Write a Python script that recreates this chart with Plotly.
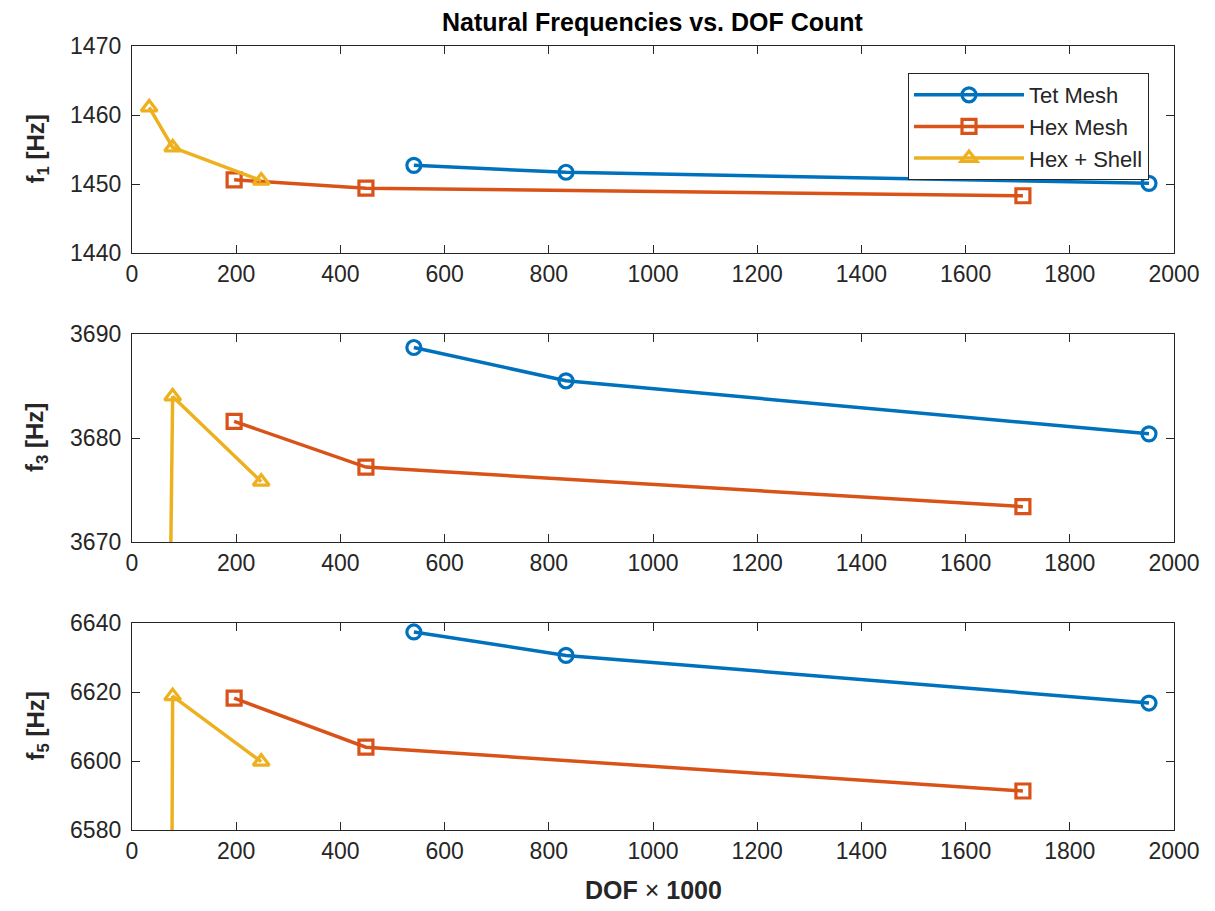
import plotly.graph_objects as go

# ---- data ----
tet_dof = [541, 833, 1952]
hex_dof = [196, 449, 1710]
hexshell_dof = [33, 78, 248]

tet_f1 = [1452.7, 1451.7, 1450.1]
hex_f1 = [1450.6, 1449.4, 1448.3]
hexshell_f1 = [1461.1, 1455.3, 1450.5]

tet_f3 = [3688.7, 3685.5, 3680.4]
hex_f3 = [3681.6, 3677.2, 3673.4]
hexshell_f3 = [3500.0, 3684.0, 3675.8]

tet_f5 = [6637.4, 6630.6, 6616.8]
hex_f5 = [6618.2, 6604.0, 6591.3]
hexshell_f5 = [5000.0, 6618.8, 6599.8]

series_names = ["Tet Mesh", "Hex Mesh", "Hex + Shell"]
panel_labels = ["f<sub>1</sub> [Hz]", "f<sub>3</sub> [Hz]", "f<sub>5</sub> [Hz]"]
y_ranges = [[1440, 1470], [3670, 3690], [6580, 6640]]
y_dticks = [10, 10, 20]
x_ticks = list(range(0, 2001, 200))

colors = ["#0072BD", "#D95319", "#EDB120"]
symbols = ["circle-open", "square-open", "triangle-up-open"]

W, H = 1215, 911
OFF = 7  # page offset of the rendered figure
xl, xr = 131 - OFF, 1173 - OFF
panels_px = [(45 - OFF, 252 - OFF), (333 - OFF, 541 - OFF), (622 - OFF, 829 - OFF)]

fig = go.Figure()
font_fam = "Liberation Sans, Arial, sans-serif"
axcol = "#262626"

data = [
    (tet_f1, hex_f1, hexshell_f1),
    (tet_f3, hex_f3, hexshell_f3),
    (tet_f5, hex_f5, hexshell_f5),
]
xs = [tet_dof, hex_dof, hexshell_dof]

layout_axes = {}
for i, (vals, (top, bot)) in enumerate(zip(data, panels_px)):
    n = "" if i == 0 else str(i + 1)
    for j in range(3):
        fig.add_trace(go.Scatter(
            x=xs[j], y=vals[j], mode="lines+markers",
            name=series_names[j], legendgroup=series_names[j],
            showlegend=(i == 0),
            line=dict(color=colors[j], width=3.5),
            marker=dict(symbol=symbols[j], size=14, color=colors[j],
                        line=dict(width=3.2, color=colors[j])),
            xaxis="x" + n, yaxis="y" + n,
        ))
    layout_axes["xaxis" + n] = dict(
        domain=[xl / W, xr / W], range=[0, 2000], tickvals=x_ticks,
        ticks="inside", ticklen=8, tickwidth=1.3, tickcolor=axcol,
        showline=True, linecolor=axcol, linewidth=1.3, mirror="ticks",
        showgrid=False, zeroline=False, anchor="y" + n, automargin=False,
        tickfont=dict(family=font_fam, size=23, color=axcol),
    )
    layout_axes["yaxis" + n] = dict(
        domain=[1 - bot / H, 1 - top / H], range=y_ranges[i], dtick=y_dticks[i],
        ticks="inside", ticklen=8, tickwidth=1.3, tickcolor=axcol,
        showline=True, linecolor=axcol, linewidth=1.3, mirror="ticks",
        showgrid=False, zeroline=False, anchor="x" + n, automargin=False,
        ticklabelstandoff=5,
        tickfont=dict(family=font_fam, size=23, color=axcol),
    )

annotations = []
for i, (top, bot) in enumerate(panels_px):
    annotations.append(dict(
        text="<b>" + panel_labels[i] + "</b>", x=(36 - OFF) / W, y=1 - (top + bot) / 2 / H,
        xref="paper", yref="paper", textangle=-90, showarrow=False,
        xanchor="center", yanchor="middle",
        font=dict(family=font_fam, size=24, color=axcol),
    ))
annotations.append(dict(
    text="<b>Natural Frequencies vs. DOF Count</b>", x=(xl + xr) / 2 / W, y=1 - (21 - OFF) / H,
    xref="paper", yref="paper", showarrow=False, xanchor="center", yanchor="middle",
    font=dict(family=font_fam, size=25, color="#000000"),
))
annotations.append(dict(
    text="<b>DOF</b> × <b>1000</b>", x=(xl + xr) / 2 / W, y=1 - (889 - OFF) / H,
    xref="paper", yref="paper", showarrow=False, xanchor="center", yanchor="middle",
    font=dict(family=font_fam, size=25, color=axcol),
))

fig.update_layout(
    width=W, height=H,
    margin=dict(l=0, r=0, t=0, b=0, autoexpand=False),
    paper_bgcolor="white", plot_bgcolor="white",
    font=dict(family=font_fam, color=axcol),
    annotations=annotations,
    legend=dict(
        x=(1148 - OFF) / W, y=1 - (72 - OFF) / H, xanchor="right", yanchor="top",
        bgcolor="white", bordercolor=axcol, borderwidth=1,
        font=dict(family=font_fam, size=22, color=axcol),
        itemwidth=110, tracegroupgap=0,
    ),
    **layout_axes,
)

fig.write_html("out.html")
